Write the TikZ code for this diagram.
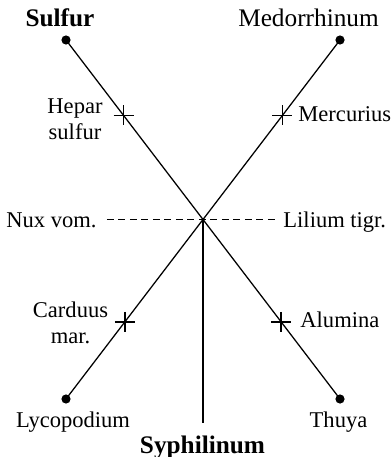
\documentclass[tikz,border=0pt]{standalone}
\usepackage{fontspec}
\setmainfont{Liberation Serif}
\usetikzlibrary{calc}
\begin{document}
\begin{tikzpicture}[x=0.435pt, y=-0.435pt,
  remedy/.style={font=\fontsize{9.8}{11.4}\selectfont, inner sep=0pt, align=center},
  pole/.style={font=\fontsize{11}{13}\selectfont, inner sep=0pt},
  axis/.style={line width=0.55pt},
  tick/.style={line width=0.7pt}]
  \useasboundingbox (0,0) rectangle (392,457);

  % end points of the two diagonals
  \coordinate (S) at (66,40);
  \coordinate (M) at (340,40);
  \coordinate (L) at (66,399);
  \coordinate (T) at (340,399);
  \coordinate (O) at (203,219.5);
  \coordinate (B) at (203,423);

  \draw[axis] (S) -- (T);
  \draw[axis] (M) -- (L);
  \draw[line width=1.1pt] (O) -- (B);

  \foreach \p in {S,M,L,T}
    \fill (\p) circle (2pt);

  % small crosses on the diagonals
  \coordinate (hep) at ($(S)!0.21!(T)$);
  \coordinate (alu) at ($(S)!0.785!(T)$);
  \coordinate (mer) at ($(M)!0.21!(L)$);
  \coordinate (car) at ($(M)!0.785!(L)$);
  \foreach \c in {hep,mer,car,alu}
    \draw[tick] ($(\c)+(-10,0)$) -- ($(\c)+(10,0)$)
                ($(\c)+(0,-10)$) -- ($(\c)+(0,10)$);

  \node[pole, anchor=base] (sulfur) at (60,27) {\textbf{Sulfur}};
  \node[pole, anchor=base] (medo) at (308.5,27) {Medorrhinum};
  \node[pole, anchor=base] (syph) at (202.5,453) {\textbf{Syphilinum}};
  \node[remedy, anchor=base] (lyco) at (73,427) {Lycopodium};
  \node[remedy, anchor=base] (thuya) at (338.5,427) {Thuya};

  \node[remedy] (hepar) at (75,119) {Hepar\\sulfur};
  \node[remedy] (card) at (70.5,322.5) {Carduus\\mar.};
  \node[remedy, anchor=base west] (merc) at (298,122) {Mercurius};
  \node[remedy, anchor=base west] (alum) at (300,327) {Alumina};

  \node[remedy, anchor=base east] (nux) at (97,227) {Nux vom.};
  \node[remedy, anchor=base west] (lil) at (283,227) {Lilium tigr.};
  \draw[axis, dash pattern=on 3pt off 2pt, shorten <=4.3pt, shorten >=3pt]
    (nux.east) -- (lil.west |- nux.east);
\end{tikzpicture}
\end{document}
